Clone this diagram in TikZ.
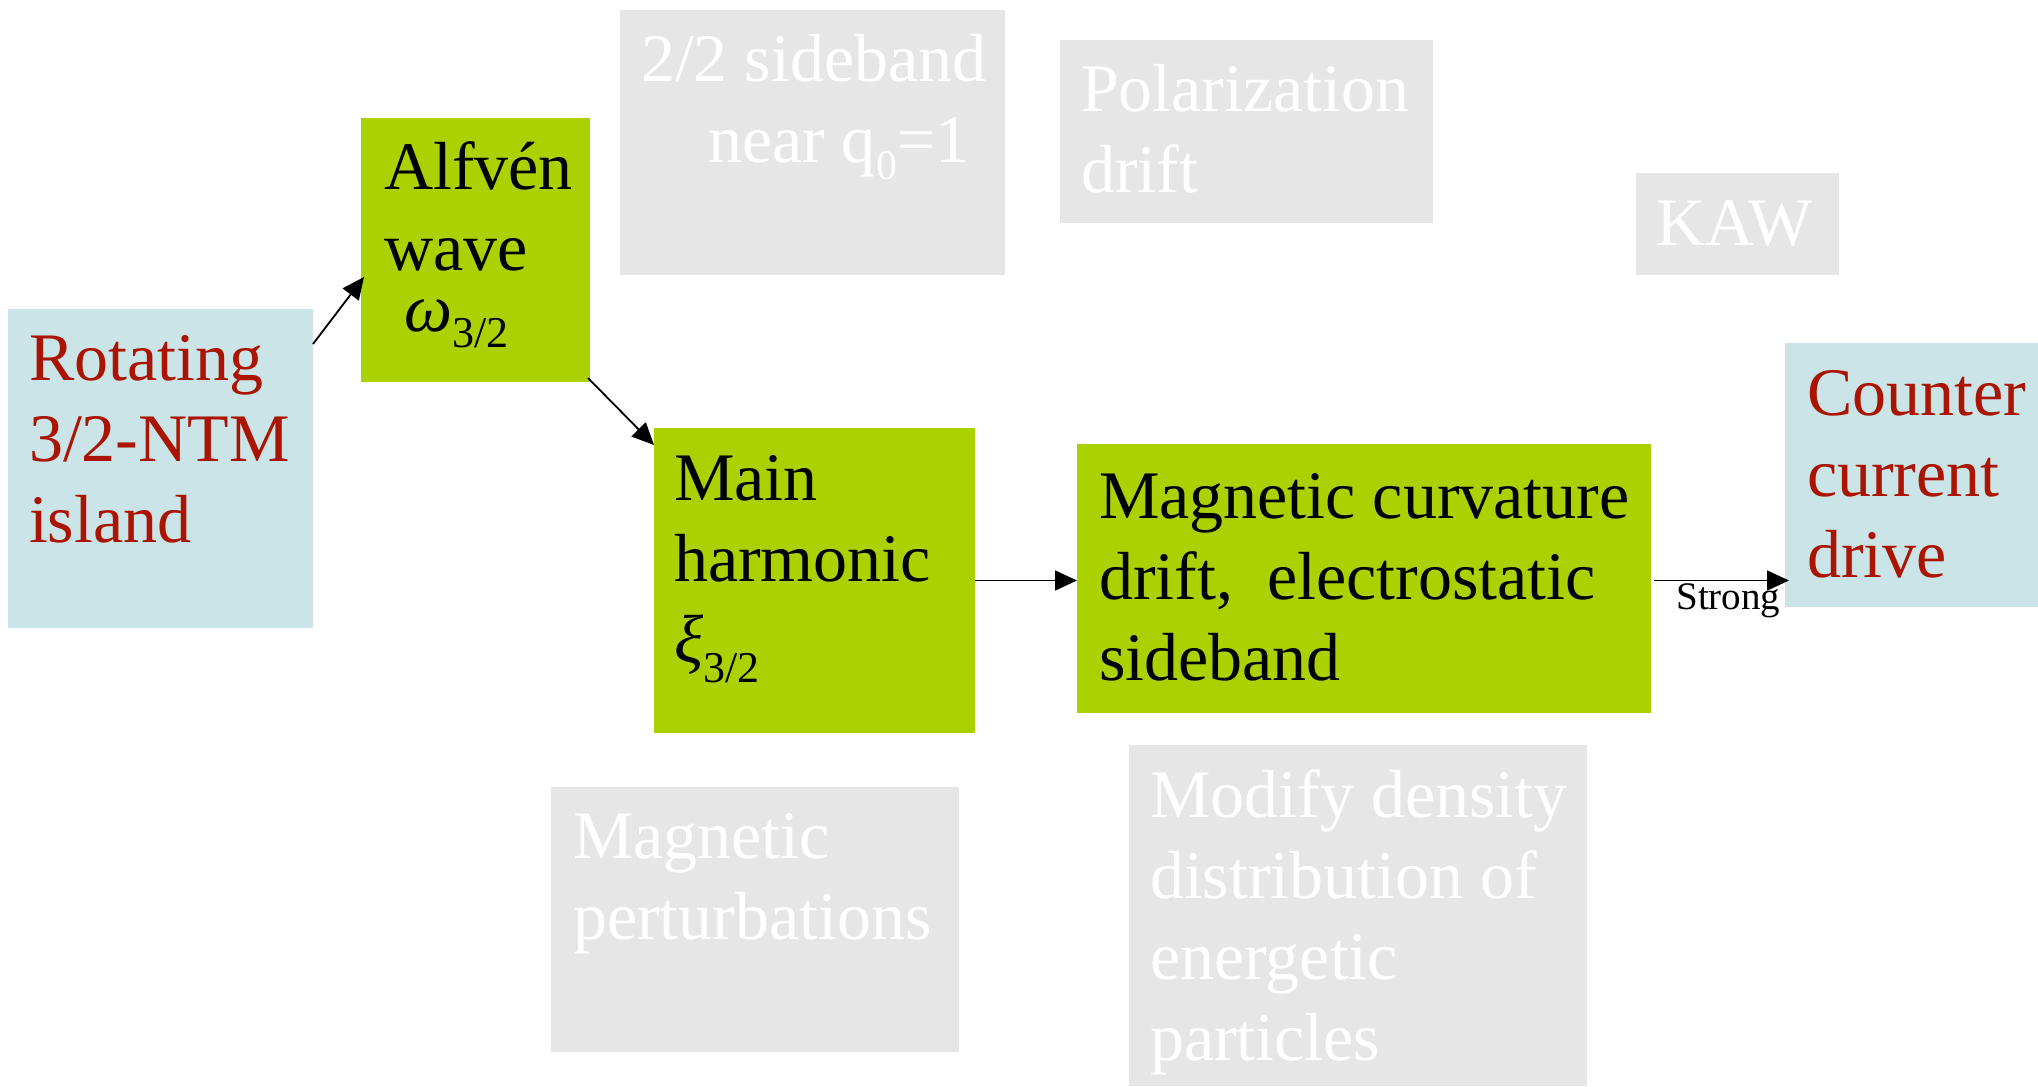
\documentclass[tikz,border=0pt]{standalone}
\usepackage{fontspec}
\setmainfont{Liberation Serif}
\usetikzlibrary{arrows.meta}
\definecolor{boxgreen}{RGB}{171,210,0}
\definecolor{boxblue}{RGB}{203,228,232}
\definecolor{boxgray}{RGB}{230,230,230}
\definecolor{txtred}{RGB}{170,20,0}
\begin{document}
\begin{tikzpicture}[x=0.5pt,y=-0.5pt,
  box/.style={anchor=north west, inner sep=0pt, outer sep=0pt, draw=none},
  gbox/.style={box, fill=boxgreen},
  bbox/.style={box, fill=boxblue},
  ybox/.style={box, fill=boxgray},
  txt/.style={anchor=base west, inner sep=0pt, outer sep=0pt, align=flush left, text width=#1, font=\fontsize{34}{40.5}\selectfont},
  txt/.default=150pt,
  wtxt/.style={txt=#1, text=white},
  wtxt/.default=150pt,
  rtxt/.style={txt=#1, text=txtred},
  rtxt/.default=150pt,
  arr/.style={-{Triangle[length=11pt,width=10pt]}, line width=0.9pt, black}
]
\useasboundingbox (0,0) rectangle (2038,1086);
% boxes
\node[bbox, minimum width=152.5pt, minimum height=159.5pt] (rot) at (8,309) {};
\node[gbox, minimum width=114.5pt, minimum height=132pt] (alf) at (361,118) {};
\node[ybox, minimum width=192.5pt, minimum height=132.5pt] (side) at (620,10) {};
\node[ybox, minimum width=186.5pt, minimum height=91.5pt] (polar) at (1060,40) {};
\node[ybox, minimum width=101.5pt, minimum height=51pt] (kaw) at (1636,173) {};
\node[bbox, minimum width=126.5pt, minimum height=132pt] (counter) at (1785,343) {};
\node[gbox, minimum width=160.5pt, minimum height=152.5pt] (main) at (654,428) {};
\node[gbox, minimum width=287pt, minimum height=134.5pt] (curv) at (1077,444) {};
\node[ybox, minimum width=204pt, minimum height=132.5pt] (magpert) at (551,787) {};
\node[ybox, minimum width=229pt, minimum height=170.5pt] (modify) at (1129,745) {};
% texts
\node[rtxt=150pt] (trot) at (29,380) {Rotating\\3/2-NTM\\island};
\node[txt=105pt] (talf) at (384,189) {Alfvén\\wave\\[-10pt]\hspace*{10pt}{\itshape ω}\raisebox{-8pt}{\fontsize{22}{22}\selectfont 3/2}};
\node[wtxt=185pt] (tside) at (641,82) {2/2 sideband\\\hspace*{33.5pt}near q\raisebox{-8.5pt}{\fontsize{21}{21}\selectfont 0}=1};
\node[wtxt=170pt] (tpolar) at (1081,112) {Polarization\\drift};
\node[wtxt=90pt] (tkaw) at (1656,245) {KAW};
\node[rtxt=115pt] (tcounter) at (1807,415) {Counter\\current\\drive};
\node[txt=145pt] (tmain) at (674,500) {Main\\harmonic\\{\itshape ξ}\raisebox{-10pt}{\fontsize{22}{22}\selectfont 3/2}};
\node[txt=285pt] (tcurv) at (1099,518) {Magnetic curvature\\drift,\ \ electrostatic\\sideband};
\node[wtxt=190pt] (tmagpert) at (573,858) {Magnetic\\perturbations};
\node[wtxt=215pt] (tmodify) at (1150,817) {Modify density\\distribution of\\energetic\\particles};
% connectors
\draw[arr] ([yshift=-17.5pt]rot.north east) -- ([xshift=1.5pt,yshift=-13.5pt]alf.west);
\draw[arr] ([xshift=-1pt,yshift=2pt]alf.south east) -- ([yshift=-8.5pt]main.north west);
\draw[arr] (main.east) -- (main.east -| curv.west);
\draw[arr, shorten <=1.5pt, shorten >=-2pt] (curv.east |- main.east) -- (counter.west |- main.east);
\node[anchor=base west, inner sep=0pt, font=\fontsize{19.5}{20}\selectfont] (lstrong) at (1676,609) {Strong};
\end{tikzpicture}
\end{document}
